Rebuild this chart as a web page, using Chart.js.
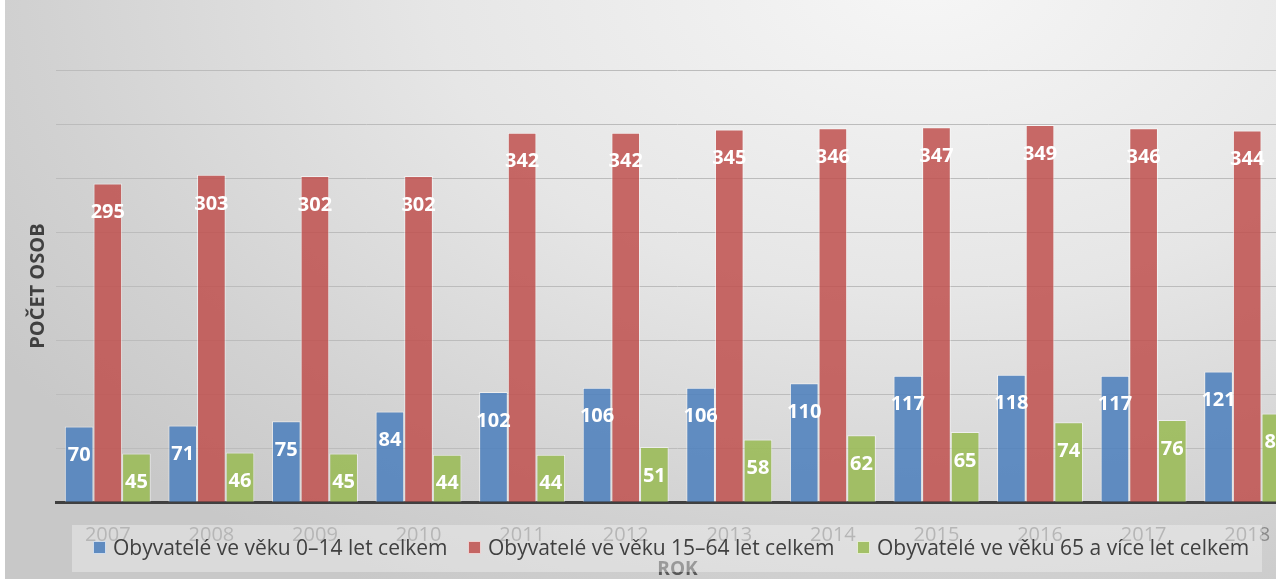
<!DOCTYPE html>
<html lang="cs">
<head>
<meta charset="utf-8">
<title>Počet osob podle věku</title>
<script src="https://cdn.jsdelivr.net/npm/chart.js@4.4.1/dist/chart.umd.min.js"></script>
<style>
    html, body { margin: 0; padding: 0; overflow: hidden; background: #ffffff; }
    #wrap {
        position: relative; width: 1300px; height: 590px; margin-left: 5px;
        background: radial-gradient(ellipse 1100px 700px at 920px -20px, #f6f6f6 0%, #e6e6e6 45%, #d2d2d2 80%, #c8c8c8 100%);
    }
    #chart { position: absolute; left: 0; top: 0; }
    #legend {
        position: absolute; left: 67px; top: 525px; width: 1190px; height: 47px;
        background: rgba(242, 242, 242, 0.42);
        font-family: "Open Sans", sans-serif; font-size: 21px; color: #404040;
    }
    .item { position: absolute; top: 8px; white-space: nowrap; line-height: 29px; }
    .box { display: inline-block; width: 11px; height: 11px; margin-right: 7px; border: 1px solid rgba(255,255,255,0.7); vertical-align: 1px; }
</style>
</head>
<body>
<div id="wrap">
    <canvas id="chart"></canvas>
    <div id="legend"></div>
</div>
<script>
"use strict";

const roky = ["2007", "2008", "2009", "2010", "2011", "2012", "2013", "2014", "2015", "2016", "2017", "2018"];
const deti = [70, 71, 75, 84, 102, 106, 106, 110, 117, 118, 117, 121];
const produktivni = [295, 303, 302, 302, 342, 342, 345, 346, 347, 349, 346, 344];
const seniori = [45, 46, 45, 44, 44, 51, 58, 62, 65, 74, 76, 82];
const nazvy = [
    "Obyvatelé ve věku 0–14 let celkem",
    "Obyvatelé ve věku 15–64 let celkem",
    "Obyvatelé ve věku 65 a více let celkem"
];
const barvy = ["rgba(79, 129, 189, 0.88)", "rgba(192, 80, 77, 0.85)", "rgba(155, 187, 89, 0.9)"];
const legendaX = [21, 396, 785];

const $ = selector => document.querySelector(selector);

// popisky hodnot uvnitř sloupců
const popisky = {
    id: "popisky",
    afterDatasetsDraw(chart) {
        const ctx = chart.ctx;
        ctx.save();
        ctx.font = "bold 20px 'Open Sans', sans-serif";
        ctx.fillStyle = "#ffffff";
        ctx.textAlign = "center";
        ctx.textBaseline = "middle";
        chart.data.datasets.forEach((ds, i) => {
            chart.getDatasetMeta(i).data.forEach((bar, j) => {
                ctx.fillText(String(ds.data[j]), bar.x, bar.y + 29);
            });
        });
        ctx.restore();
    }
};

const canvas = $("#chart");
canvas.width = 1300;
canvas.height = 590;

new Chart(canvas.getContext("2d"), {
    type: "bar",
    data: {
        labels: roky,
        datasets: [deti, produktivni, seniori].map((values, i) => ({
            label: nazvy[i],
            data: values,
            backgroundColor: barvy[i],
            borderColor: "rgba(255, 255, 255, 0.55)",
            borderWidth: 1,
            categoryPercentage: 0.83,
            barPercentage: 1
        }))
    },
    options: {
        responsive: false,
        animation: false,
        layout: { padding: { top: 70, left: 21, right: 6, bottom: 9 } },
        plugins: { legend: { display: false }, tooltip: { enabled: false } },
        scales: {
            x: {
                grid: { display: false, drawTicks: false },
                border: { display: true, color: "#404040", width: 3 },
                ticks: { padding: 21, color: "#8a8a8a", font: { family: "'Open Sans', sans-serif", size: 20 } },
                title: {
                    display: true, text: "ROK", color: "#595959",
                    font: { family: "'Open Sans', sans-serif", size: 19, weight: "bold" },
                    padding: { top: -10, bottom: 0 }
                }
            },
            y: {
                min: 0, max: 400,
                ticks: { display: false, stepSize: 50 },
                grid: { color: "#bcbcbc", lineWidth: 1, drawTicks: false },
                border: { display: false },
                title: {
                    display: true, text: "POČET OSOB", color: "#404040",
                    font: { family: "'Open Sans', sans-serif", size: 20, weight: "bold" },
                    padding: { top: 0, bottom: 6 }
                }
            }
        }
    },
    plugins: [popisky]
});

$("#legend").innerHTML = nazvy.map((nazev, i) => `
    <span class="item" style="left:${legendaX[i]}px"><span class="box" style="background:${barvy[i]}"></span>${nazev}</span>
`).join("");
</script>
</body>
</html>
